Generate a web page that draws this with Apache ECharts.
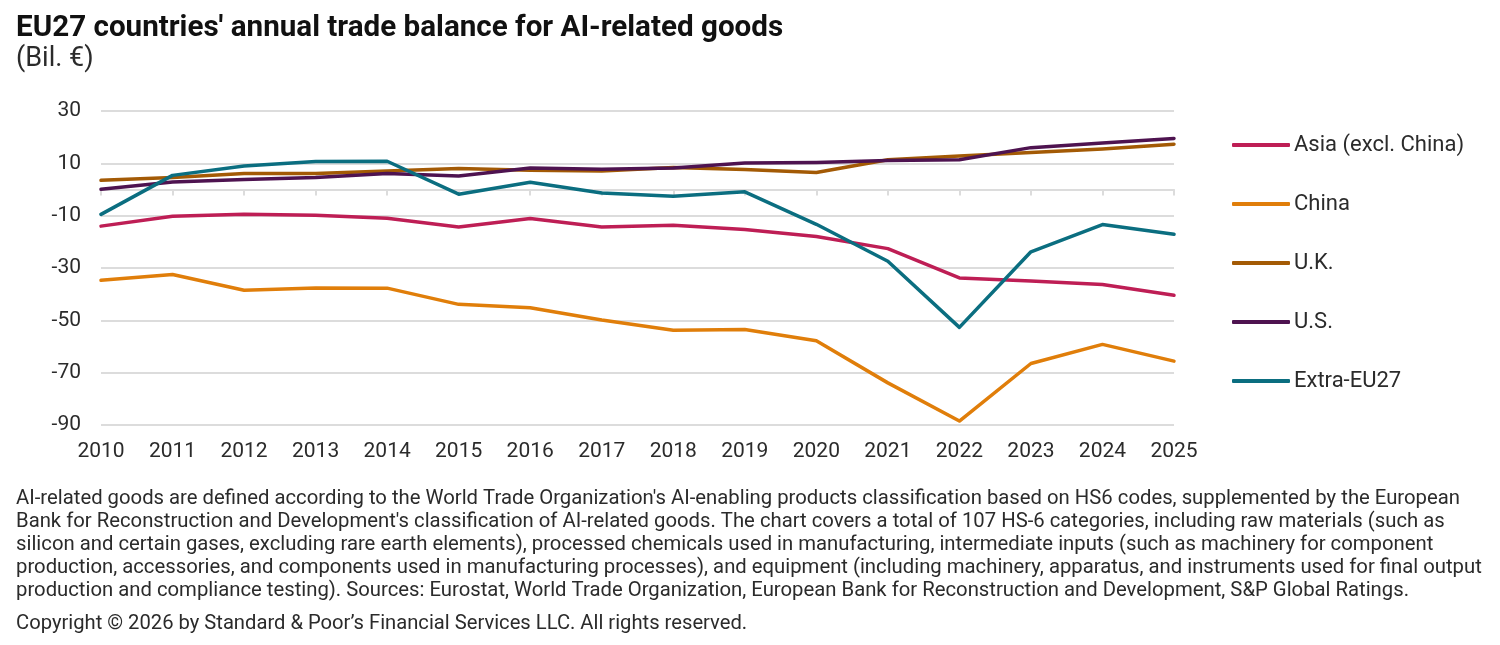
<!DOCTYPE html>
<html>
<head>
<meta charset="utf-8">
<script src="https://cdn.jsdelivr.net/npm/echarts@6/dist/echarts.min.js"></script>
<style>
  html, body { margin: 0; padding: 0; background: #fff; }
  #chart { width: 1500px; height: 645px; }
</style>
</head>
<body>
<div id="chart"></div>
<script>
// years on the x axis
var years = ['2010','2011','2012','2013','2014','2015','2016','2017','2018','2019','2020','2021','2022','2023','2024','2025'];

// trade balance, bil. EUR
var asia   = [-14.0, -10.2, -9.5, -9.8, -11.0, -14.3, -11.1, -14.3, -13.7, -15.3, -18.0, -22.6, -33.8, -35.0, -36.3, -40.4];
var china  = [-34.7, -32.5, -38.5, -37.6, -37.7, -43.9, -45.2, -49.9, -53.8, -53.5, -57.8, -73.9, -88.5, -66.5, -59.2, -65.6];
var uk     = [3.5, 4.6, 6.1, 6.1, 7.1, 8.0, 7.4, 7.1, 8.4, 7.6, 6.5, 11.4, 12.8, 14.1, 15.5, 17.3];
var us     = [0.1, 2.9, 3.8, 4.6, 6.1, 5.2, 8.2, 7.7, 8.2, 10.1, 10.3, 11.1, 11.4, 16.0, 17.8, 19.5];
var extra  = [-9.5, 5.4, 9.0, 10.7, 10.8, -1.8, 2.8, -1.3, -2.6, -0.9, -13.3, -27.4, -52.7, -23.8, -13.4, -17.1];

var seriesNames = ['Asia (excl. China)', 'China', 'U.K.', 'U.S.', 'Extra-EU27'];
var seriesColors = ['#BE1E55', '#E07E0A', '#A35A05', '#4E1350', '#0B6E80'];
var seriesData = [asia, china, uk, us, extra];

var footLines = [
  "AI-related goods are defined according to the World Trade Organization's AI-enabling products classification based on HS6 codes, supplemented by the European",
  "Bank for Reconstruction and Development's classification of AI-related goods. The chart covers a total of 107 HS-6 categories, including raw materials (such as",
  "silicon and certain gases, excluding rare earth elements), processed chemicals used in manufacturing, intermediate inputs (such as machinery for component",
  "production, accessories, and components used in manufacturing processes), and equipment (including machinery, apparatus, and instruments used for final output",
  "production and compliance testing). Sources: Eurostat, World Trade Organization, European Bank for Reconstruction and Development, S&P Global Ratings."
];

var FONT = 'Roboto, "Noto Sans", sans-serif';
var txt = '#2b2b2b';

var chart = echarts.init(document.getElementById('chart'));

var series = [];
for (var i = 0; i < seriesNames.length; i++) {
  series.push({
    name: seriesNames[i],
    type: 'line',
    data: seriesData[i],
    symbol: 'none',
    lineStyle: { width: 3.5, color: seriesColors[i], cap: 'round', join: 'round' },
    itemStyle: { color: seriesColors[i] },
    emphasis: { disabled: true }
  });
}

var option = {
  animation: false,
  textStyle: { fontFamily: FONT },
  title: [
    {
      text: "EU27 countries' annual trade balance for AI-related goods",
      left: 16, top: 14, padding: 0,
      textStyle: { fontFamily: FONT, fontSize: 29.6, fontWeight: 'bold', color: '#111' }
    },
    {
      text: '(Bil. €)',
      left: 16, top: 46, padding: 0,
      textStyle: { fontFamily: FONT, fontSize: 27, fontWeight: 'normal', color: txt }
    },
    {
      text: footLines.join('\n'),
      left: 16, top: 487, padding: 0,
      textStyle: { fontFamily: FONT, fontSize: 20.3, fontWeight: 'normal', color: txt, lineHeight: 23.2 }
    },
    {
      text: 'Copyright © 2026 by Standard & Poor’s Financial Services LLC. All rights reserved.',
      left: 16, top: 612, padding: 0,
      textStyle: { fontFamily: FONT, fontSize: 20.2, fontWeight: 'normal', color: txt, lineHeight: 23 }
    }
  ],
  legend: {
    orient: 'vertical',
    left: 1232, top: 134, padding: 0,
    itemWidth: 58, itemHeight: 4,
    itemGap: 37,
    icon: 'roundRect',
    data: seriesNames,
    textStyle: { fontFamily: FONT, fontSize: 22, color: txt, padding: [0, 0, 0, -1] }
  },
  grid: { left: 101, right: 326, top: 111, bottom: 220, containLabel: false },
  xAxis: [
    {
      type: 'category',
      data: years,
      boundaryGap: false,
      position: 'bottom',
      axisLine: { show: false, onZero: false },
      axisTick: { show: false },
      axisLabel: { fontFamily: FONT, fontSize: 21, color: txt, margin: 16 },
      splitLine: { show: false }
    },
    {
      type: 'category',
      data: years,
      boundaryGap: false,
      position: 'bottom',
      axisLine: { show: true, onZero: true, lineStyle: { color: '#dcdcdc', width: 2 } },
      axisTick: { show: true, length: 6, lineStyle: { color: '#dcdcdc', width: 2 } },
      axisLabel: { show: false },
      splitLine: { show: false }
    }
  ],
  yAxis: {
    type: 'value',
    min: -90, max: 30, interval: 20,
    axisLine: { show: false },
    axisTick: { show: false },
    axisLabel: { fontFamily: FONT, fontSize: 21, color: txt, margin: 20 },
    splitLine: { lineStyle: { color: '#dcdcdc', width: 2 } }
  },
  series: series
};

chart.setOption(option);
</script>
</body>
</html>
